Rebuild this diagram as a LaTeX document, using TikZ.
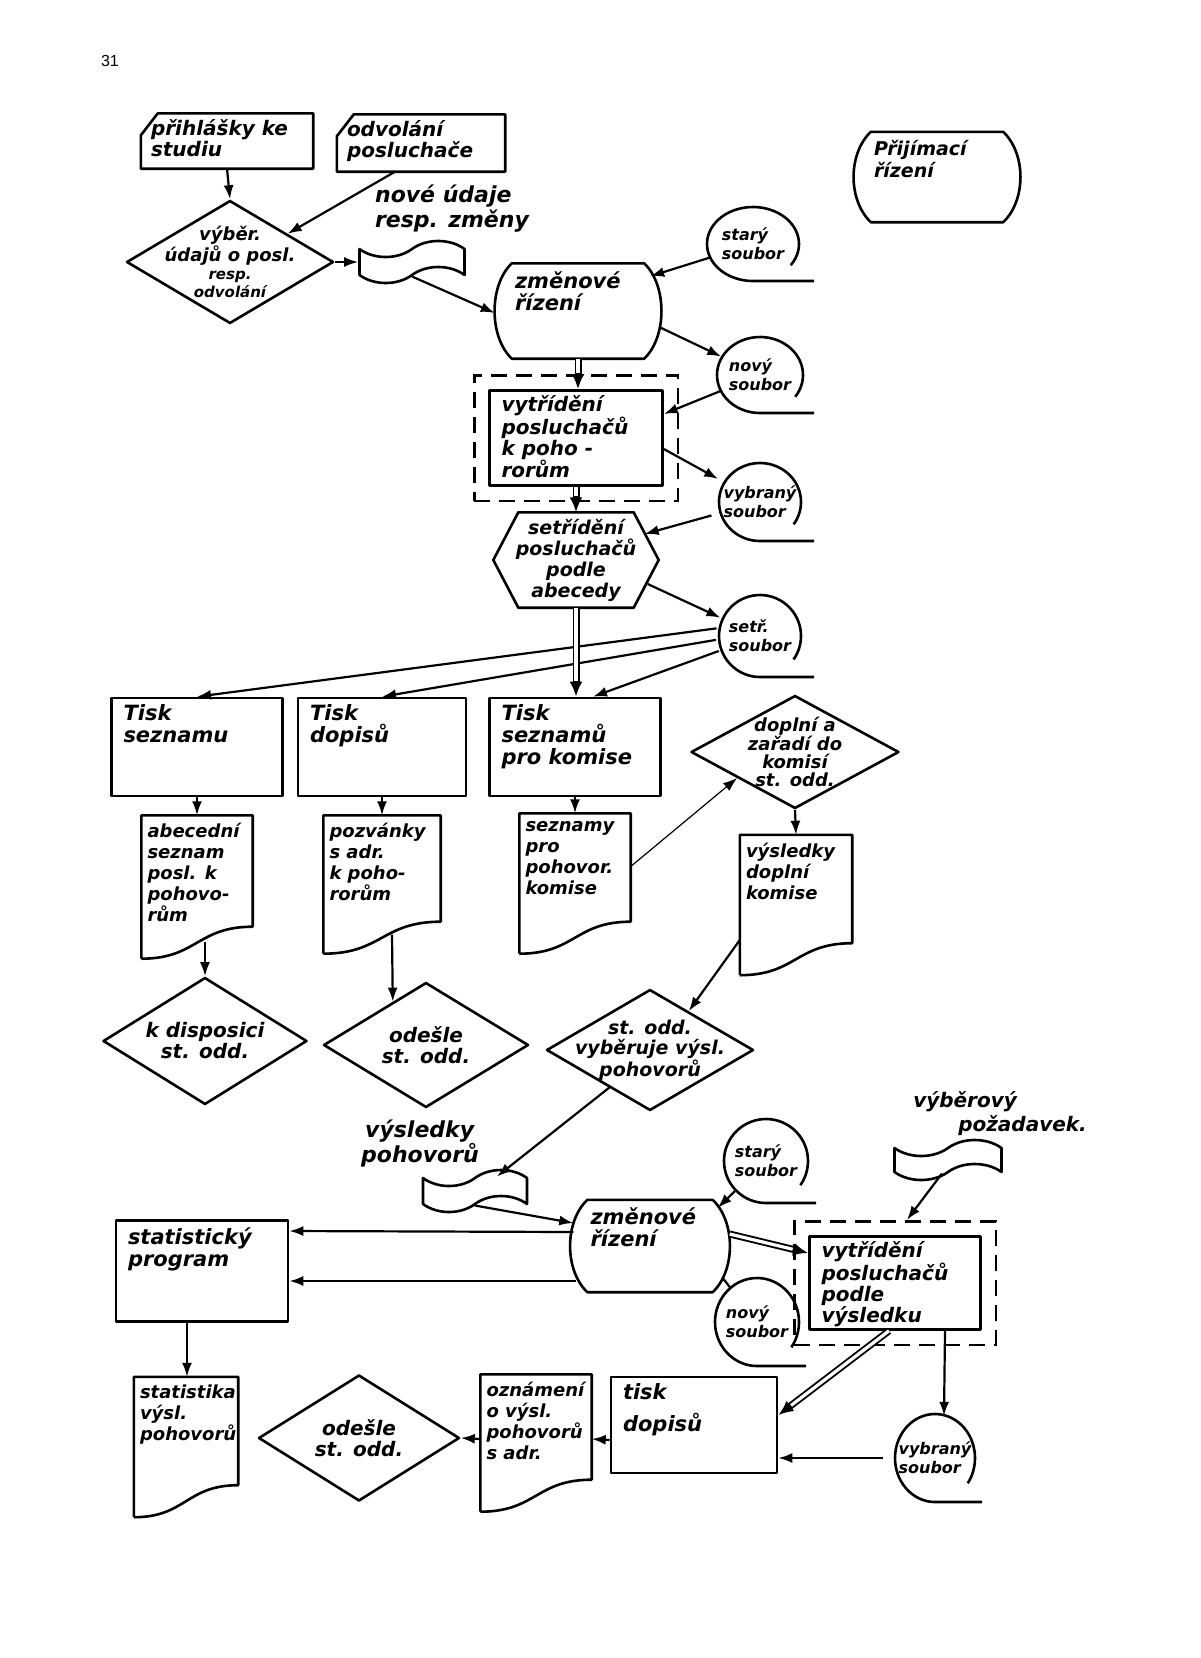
\documentclass[tikz,border=0pt]{standalone}
\usepackage{fontspec}
\setmainfont{DejaVu Sans}
\newfontfamily\strankapismo{Liberation Sans}
\usetikzlibrary{arrows.meta,positioning,calc,shapes.geometric,shapes.symbols,fit}
% text nahore v bloku
\newcommand{\nahore}[3]{\parbox[c][#2][t]{#1}{\raggedright\hyphenpenalty=10000 #3}}
% obrysy vlastnich znacek
\newcommand{\kartatvar}[1]{\draw[obrys] ($(#1.north west)+(17,0)$) -- (#1.north east) -- (#1.south east) -- (#1.south west) -- ($(#1.north west)+(0,22)$) -- cycle;}
\newcommand{\valectvar}[1]{\draw[obrys] ($(#1.north west)+(17,0)$) -- ($(#1.north east)+(-17,0)$)
  .. controls ($(#1.north east)+(6,22)$) and ($(#1.south east)+(6,-22)$) .. ($(#1.south east)+(-17,0)$)
  -- ($(#1.south west)+(17,0)$)
  .. controls ($(#1.south west)+(-6,-22)$) and ($(#1.north west)+(-6,22)$) .. cycle;}
\newcommand{\sestiuhel}[1]{\draw[obrys] (#1.west) -- ($(#1.north west)+(25,0)$) -- ($(#1.north east)+(-25,0)$) -- (#1.east) -- ($(#1.south east)+(-25,0)$) -- ($(#1.south west)+(25,0)$) -- cycle;}
\newcommand{\dokladtvar}[1]{\draw[obrys] (#1.south west) -- (#1.north west) -- (#1.north east) -- ($(#1.south east)+(0,-32)$)
  .. controls ($(#1.south)+(0,-32)$) and (#1.south) .. (#1.south west);}
\newcommand{\souborvar}[4]{\draw[obrys] ($(#1.center)+({#2*cos(35)},{#3*sin(35)})$) arc[start angle=35,end angle=-270,x radius=#2,y radius=#3] -- ++(#4,0);}
\tikzset{
  obrys/.style  = {line width=2.6pt, line join=round},
  pismo/.style  = {font=\fontsize{21}{22}\selectfont\bfseries\itshape},
  karta/.style  = {font=\fontsize{20}{21}\selectfont\bfseries\itshape, inner xsep=10pt, inner ysep=6pt},
  valec/.style  = {pismo, inner xsep=20pt, inner ysep=8pt},
  blok/.style   = {draw, obrys, pismo, inner xsep=12pt, inner ysep=7pt},
  dok/.style    = {font=\fontsize{18}{21}\selectfont\bfseries\itshape, inner xsep=6pt, inner ysep=8pt},
  hexa/.style   = {font=\fontsize{19}{21}\selectfont\bfseries\itshape, align=center,
                   minimum width=165pt, minimum height=95pt, inner sep=2pt},
  rozhod/.style = {draw, obrys, diamond, align=center, inner sep=-30pt,
                   font=\fontsize{20}{21}\selectfont\bfseries\itshape},
  soubor/.style = {ellipse, align=left, inner sep=0pt, font=\fontsize{16}{19}\selectfont\bfseries\itshape},
  paska/.style  = {draw, obrys, tape, tape bend top=in and out, tape bend bottom=in and out,
                   tape bend height=16pt, inner sep=0pt},
  obal/.style   = {draw, line width=2.6pt, dash pattern=on 16pt off 9pt},
  sipka/.style  = {-{Latex[length=14pt,width=10pt]}, line width=2.2pt},
  dvoj/.style   = {-{Latex[length=15pt,width=13pt]}, line width=7pt,
                   postaction={draw=white, line width=3.2pt, -, shorten >=16pt}},
  spoj/.style   = {line width=2.2pt},
  popis/.style  = {font=\fontsize{22}{25}\selectfont\bfseries\itshape, align=left, inner sep=0pt},
}
\begin{document}
\begin{tikzpicture}[x=1pt, y=-1pt]
\useasboundingbox (0,0) rectangle (1200,1658);
\node[font=\strankapismo\fontsize{16}{16}\selectfont] (strana) at (110,61) {31};

% vstupy a zmenove rizeni
\node[karta] (prihl) at (227,141) {\nahore{152pt}{43pt}{přihlášky ke\\studiu}};
\kartatvar{prihl}
\node[karta] (odvol) at (421,143) {\nahore{148pt}{45pt}{odvolání\\posluchače}};
\kartatvar{odvol}
\node[rozhod, minimum width=207pt, minimum height=123pt, font=\fontsize{18}{18}\selectfont\bfseries\itshape] (vyber) at (230,262)
  {výběr.\\údajů o posl.\\{\fontsize{15}{15}\selectfont resp.}\\{\fontsize{15}{15}\selectfont odvolání}};
\node[popis] (nove) at (452,209) {nové údaje\\resp. změny};
\node[paska, minimum width=105pt, minimum height=42pt] (tape1) at (412,262) {};
\node[valec] (zmena1) at (578,311) {\nahore{126pt}{79pt}{změnové\\řízení}};
\valectvar{zmena1}
\node[valec, font=\fontsize{19}{22}\selectfont\bfseries\itshape] (prijim) at (937,177) {\nahore{126pt}{74pt}{Přijímací\\řízení}};
\valectvar{prijim}

\node[soubor, minimum width=92pt, minimum height=74pt] (stary1) at (753,244) {starý\\soubor};
\souborvar{stary1}{46}{37}{61}
\node[soubor, minimum width=86pt, minimum height=76pt] (novy1) at (760,375) {nový\\soubor};
\souborvar{novy1}{43}{38}{54}
\node[soubor, minimum width=82pt, minimum height=78pt] (vybr1) at (760,502) {vybraný\\soubor};
\souborvar{vybr1}{41}{39}{54}
\node[soubor, minimum width=82pt, minimum height=82pt] (setrs) at (760,636) {setř.\\soubor};
\souborvar{setrs}{41}{41}{54}

\node[blok, inner ysep=5pt, font=\fontsize{20}{21}\selectfont\bfseries\itshape] (vytr1) at (576,438) {\nahore{149pt}{85pt}{vytřídění\\posluchačů\\k poho -\\rorům}};
\node[obal, fit=(vytr1), inner sep=14pt] (obal1) {};
\node[hexa] (setr) at (576,560) {setřídění\\posluchačů\\podle\\abecedy};
\sestiuhel{setr}

% tisky
\node[blok] (tisk1) at (197,747) {\nahore{147pt}{84pt}{Tisk\\seznamu}};
\node[blok] (tisk2) at (382,747) {\nahore{144pt}{84pt}{Tisk\\dopisů}};
\node[blok] (tisk3) at (575,747) {\nahore{147pt}{84pt}{Tisk\\seznamů\\pro komise}};
\node[rozhod, minimum width=208pt, minimum height=113pt, font=\fontsize{18}{18}\selectfont\bfseries\itshape] (dopl) at (795,752) {doplní a\\zařadí do\\komisí\\st. odd.};

\node[dok, below=18pt of tisk1] (dok1) {\nahore{99pt}{127pt}{abecední\\seznam\\posl. k\\pohovo-\\rům}};
\dokladtvar{dok1}
\node[dok, below=18pt of tisk2] (dok2) {\nahore{105pt}{122pt}{pozvánky\\s adr.\\k poho-\\rorům}};
\dokladtvar{dok2}
\node[dok, below=16pt of tisk3] (dok3) {\nahore{99pt}{124pt}{seznamy\\pro\\pohovor.\\komise}};
\dokladtvar{dok3}
\node[dok] (dok4) at (796,905) {\nahore{100pt}{124pt}{výsledky\\doplní\\komise}};
\dokladtvar{dok4}

\node[rozhod, minimum width=204pt, minimum height=127pt] (kdisp) at (205,1041) {k disposici\\st. odd.};
\node[rozhod, minimum width=205pt, minimum height=125pt] (odes1) at (426,1045) {odešle\\st. odd.};
\node[rozhod, minimum width=207pt, minimum height=121pt, font=\fontsize{19}{20}\selectfont\bfseries\itshape] (vyhod) at (650,1050) {st. odd.\\vyběruje výsl.\\pohovorů};

% vysledky pohovoru
\node[popis] (vysl) at (420,1143) {\hspace*{4pt}výsledky\\pohovorů};
\node[paska, minimum width=104pt, minimum height=42pt] (tape2) at (475,1191) {};
\node[valec] (zmena2) at (650,1246) {\nahore{119pt}{76pt}{změnové\\řízení}};
\valectvar{zmena2}
\node[soubor, minimum width=84pt, minimum height=84pt] (stary2) at (766,1161) {starý\\soubor};
\souborvar{stary2}{42}{42}{50}
\node[soubor, minimum width=84pt, minimum height=88pt] (novy2) at (757,1322) {nový\\soubor};
\souborvar{novy2}{42}{44}{49}
\node[blok, inner ysep=5pt, font=\fontsize{20}{21}\selectfont\bfseries\itshape] (vytr2) at (895,1283) {\nahore{147pt}{83pt}{vytřídění\\posluchačů\\podle\\výsledku}};
\node[obal, fit=(vytr2), inner sep=14pt] (obal2) {};
\node[popis, font=\fontsize{20}{24}\selectfont\bfseries\itshape] (pozad) at (1000,1114) {výběrový\\\hspace*{45pt}požadavek.};
\node[paska, minimum width=107pt, minimum height=40pt] (tape3) at (948,1160) {};

\node[blok] (stat) at (202,1271) {\nahore{148pt}{87pt}{statistický\\program}};
\node[dok] (dok5) at (186,1447) {\nahore{92pt}{124pt}{statistika\\výsl.\\pohovorů}};
\dokladtvar{dok5}
\node[rozhod, minimum width=201pt, minimum height=126pt] (odes2) at (359,1438) {odešle\\st. odd.};
\node[dok] (dok6) at (536,1443) {\nahore{99pt}{121pt}{oznámení\\o výsl.\\pohovorů\\s adr.}};
\dokladtvar{dok6}
\node[blok] (tisk4) at (694,1425) {\nahore{142pt}{82pt}{tisk\\[10pt]dopisů}};
\node[soubor, minimum width=80pt, minimum height=88pt] (vybr2) at (935,1458) {vybraný\\soubor};
\souborvar{vybr2}{40}{44}{47}

% spojnice
\draw[sipka] (prihl.south) -- (vyber.north);
\draw[sipka] ($(odvol.south)+(-26,0)$) -- ($(vyber.north)!0.55!(vyber.east)$);
\draw[sipka] (vyber.east) -- (tape1.west);
\draw[sipka] (tape1.south) -- ($(zmena1.west)+(0,2)$);
\draw[sipka] (stary1) -- ($(zmena1.north east)+(-11,13)$);
\draw[sipka] ($(zmena1.east)+(-2,16)$) -- (novy1);
\draw[dvoj] (zmena1.south) -- (zmena1.south |- vytr1.north);
\draw[sipka] (novy1) -- ($(vytr1.east)+(0,-24)$);
\draw[sipka] ($(vytr1.east)+(0,11)$) -- (vybr1);
\draw[dvoj] (vytr1.south) -- (vytr1.south |- setr.north);
\draw[sipka] (vybr1) -- ($(setr.east)+(-14,-26)$);
\draw[sipka] ($(setr.east)+(-11,24)$) -- (setrs);
\draw[sipka] (setrs.170) -- (tisk1.north);
\draw[sipka] (setrs.185) -- (tisk2.north);
\draw[sipka] (setrs.200) -- ($(tisk3.north)+(18,0)$);
\draw[dvoj] (setr.south) -- (setr.south |- tisk3.north);
\draw[sipka] (tisk1.south) -- (dok1.north);
\draw[sipka] (tisk2.south) -- (dok2.north);
\draw[sipka] (tisk3.south) -- (dok3.north);
\draw[sipka, line width=1.2pt] ($(dok3.east)+(0,-17)$) -- ($(dopl.west)!0.45!(dopl.south)$);
\draw[sipka] (dopl.south) -- (dok4.north);
\draw[sipka] ($(dok4.west)+(0,35)$) -- ($(vyhod.north)!0.37!(vyhod.east)$);
\draw[sipka] ($(dok1.south)+(8,-17)$) -- (kdisp.north);
\draw[sipka] ($(dok2.south)+(10,-19)$) -- ($(odes1.north)!0.32!(odes1.west)$);
\draw[sipka] ($(vyhod.south)!0.39!(vyhod.west)$) -- ($(tape2.north)+(22,0)$);
\draw[sipka] (tape2.south) -- ($(zmena2.west)+(3,-23)$);
\draw[sipka] (stary2) -- ($(zmena2.north east)+(-12,8)$);
\draw[spoj] ($(zmena2.east)+(-7,32)$) -- (novy2);
\draw[dvoj] ($(zmena2.east)+(0,-12)$) -- ($(vytr2.west)+(0,-30)$);
\draw[sipka] ($(zmena2.west)+(3,-14)$) -- ($(stat.east)+(0,-40)$);
\draw[sipka] ($(zmena2.west)+(6,35)$) -- ($(stat.east)+(0,10)$);
\draw[sipka] ($(tape3.south)+(-6,0)$) -- ($(obal2.north)+(12,0)$);
\draw[dvoj] ($(vytr2.south)+(-6,0)$) -- ($(tisk4.north east)!0.4!(tisk4.south east)$);
\draw[sipka] ($(vytr2.south)+(50,0)$) -- ($(vybr2.north)+(9,2)$);
\draw[sipka] (vybr2.west) -- ($(tisk4.east)+(0,33)$);
\draw[sipka] ($(tisk4.west)+(0,15)$) -- ($(dok6.east)+(0,-4)$);
\draw[sipka] ($(dok6.west)+(0,-4)$) -- (odes2.east);
\draw[sipka] ($(stat.south)+(-15,0)$) -- ($(dok5.north)+(1,0)$);
\end{tikzpicture}
\end{document}
